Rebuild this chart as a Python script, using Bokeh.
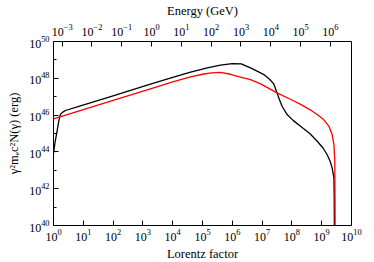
import numpy as np
from bokeh.plotting import figure
from bokeh.models import LogAxis, Range1d, LogScale, FixedTicker
from bokeh.embed import file_html
from bokeh.resources import INLINE

# Data (log10 values)
black_log_gamma = [0.0, 0.05, 0.12, 0.18, 0.23, 0.3, 0.4, 0.85, 2.0, 3.09, 4.0, 4.6, 5.16, 5.6, 6.0, 6.3,
                   6.61, 6.85, 7.06, 7.25, 7.39, 7.5, 7.58, 7.67, 7.84, 8.05, 8.29, 8.6, 8.85, 9.05, 9.18,
                   9.28, 9.35, 9.41, 9.42, 9.425]
black_log_val = [43.9, 44.5, 45.13, 45.7, 46.03, 46.15, 46.25, 46.48, 47.05, 47.6, 48.05, 48.33, 48.57, 48.72,
                 48.8, 48.78, 48.57, 48.38, 48.2, 47.95, 47.7, 47.21, 46.85, 46.48, 46.03, 45.7, 45.4, 45.0,
                 44.58, 44.2, 43.86, 43.5, 43.13, 42.6, 41.5, 40.0]
red_log_gamma = [0.0, 1.0, 2.0, 3.09, 4.0, 4.6, 5.0, 5.3, 5.6, 5.94, 6.3, 6.61, 6.95, 7.5, 8.0, 8.29, 8.6,
                 8.85, 9.05, 9.24, 9.35, 9.41, 9.44, 9.445, 9.45]
red_log_val = [45.8, 46.3, 46.8, 47.34, 47.8, 48.08, 48.22, 48.3, 48.32, 48.22, 48.05, 47.93, 47.7, 47.21,
               46.82, 46.58, 46.3, 46.03, 45.78, 45.4, 44.95, 44.4, 43.5, 42.0, 40.0]

bottom_ticks = [1e0, 1e1, 1e2, 1e3, 1e4, 1e5, 1e6, 1e7, 1e8, 1e9, 1e10]
left_ticks = [1e40, 1e42, 1e44, 1e46, 1e48, 1e50]
left_minor = [1e41, 1e43, 1e45, 1e47, 1e49]
top_ticks = [1e-3, 1e-2, 1e-1, 1e0, 1e1, 1e2, 1e3, 1e4, 1e5, 1e6]
me_c2_GeV = 5.11e-4

FONT = "Liberation Serif"

p = figure(frame_width=298, frame_height=184, x_axis_type="log", y_axis_type="log",
           x_range=(1, 1e10), y_range=(1e40, 1e50),
           output_backend="svg", toolbar_location=None,
           min_border_left=53, min_border_right=15, min_border_top=37, min_border_bottom=36)
p.grid.visible = False
p.outline_line_color = "black"
p.outline_line_width = 1
p.background_fill_color = "white"
p.border_fill_color = "white"

p.extra_x_ranges = {"energy": Range1d(me_c2_GeV * 1, me_c2_GeV * 1e10)}
p.extra_x_scales = {"energy": LogScale()}
top = LogAxis(x_range_name="energy", axis_label="Energy (GeV)")
top.ticker = FixedTicker(ticks=top_ticks, minor_ticks=[])
p.add_layout(top, "above")

bottom = p.below[0]
left = p.left[0]
bottom.ticker = FixedTicker(ticks=bottom_ticks, minor_ticks=[])
bottom.axis_label = "Lorentz factor"
left.ticker = FixedTicker(ticks=left_ticks, minor_ticks=left_minor)
left.axis_label = "γ²mₑc²N(γ) (erg)"

for ax in [bottom, left, top]:
    ax.axis_line_color = None
    ax.major_tick_in = 5
    ax.major_tick_out = 0
    ax.minor_tick_in = 3
    ax.minor_tick_out = 0
    ax.major_tick_line_color = "black"
    ax.minor_tick_line_color = "black"
    ax.major_label_text_font = FONT
    ax.major_label_text_font_size = "12px"
    ax.major_label_text_color = "black"
    ax.axis_label_text_font = FONT
    ax.axis_label_text_font_size = "12.5px"
    ax.axis_label_text_font_style = "normal"
    ax.axis_label_text_color = "black"
    ax.major_label_standoff = 4
    ax.axis_label_standoff = 5

top.major_label_standoff = 6
top.axis_label_standoff = 3
bottom.major_label_standoff = 3
bottom.axis_label_standoff = 3

bx = [10 ** v for v in black_log_gamma]
by = [10 ** v for v in black_log_val]
rx = [10 ** v for v in red_log_gamma]
ry = [10 ** v for v in red_log_val]
p.line(bx, by, line_color="black", line_width=1.3)
p.line(rx, ry, line_color="red", line_width=1.3)

open("out.html", "w").write(file_html(p, INLINE))
